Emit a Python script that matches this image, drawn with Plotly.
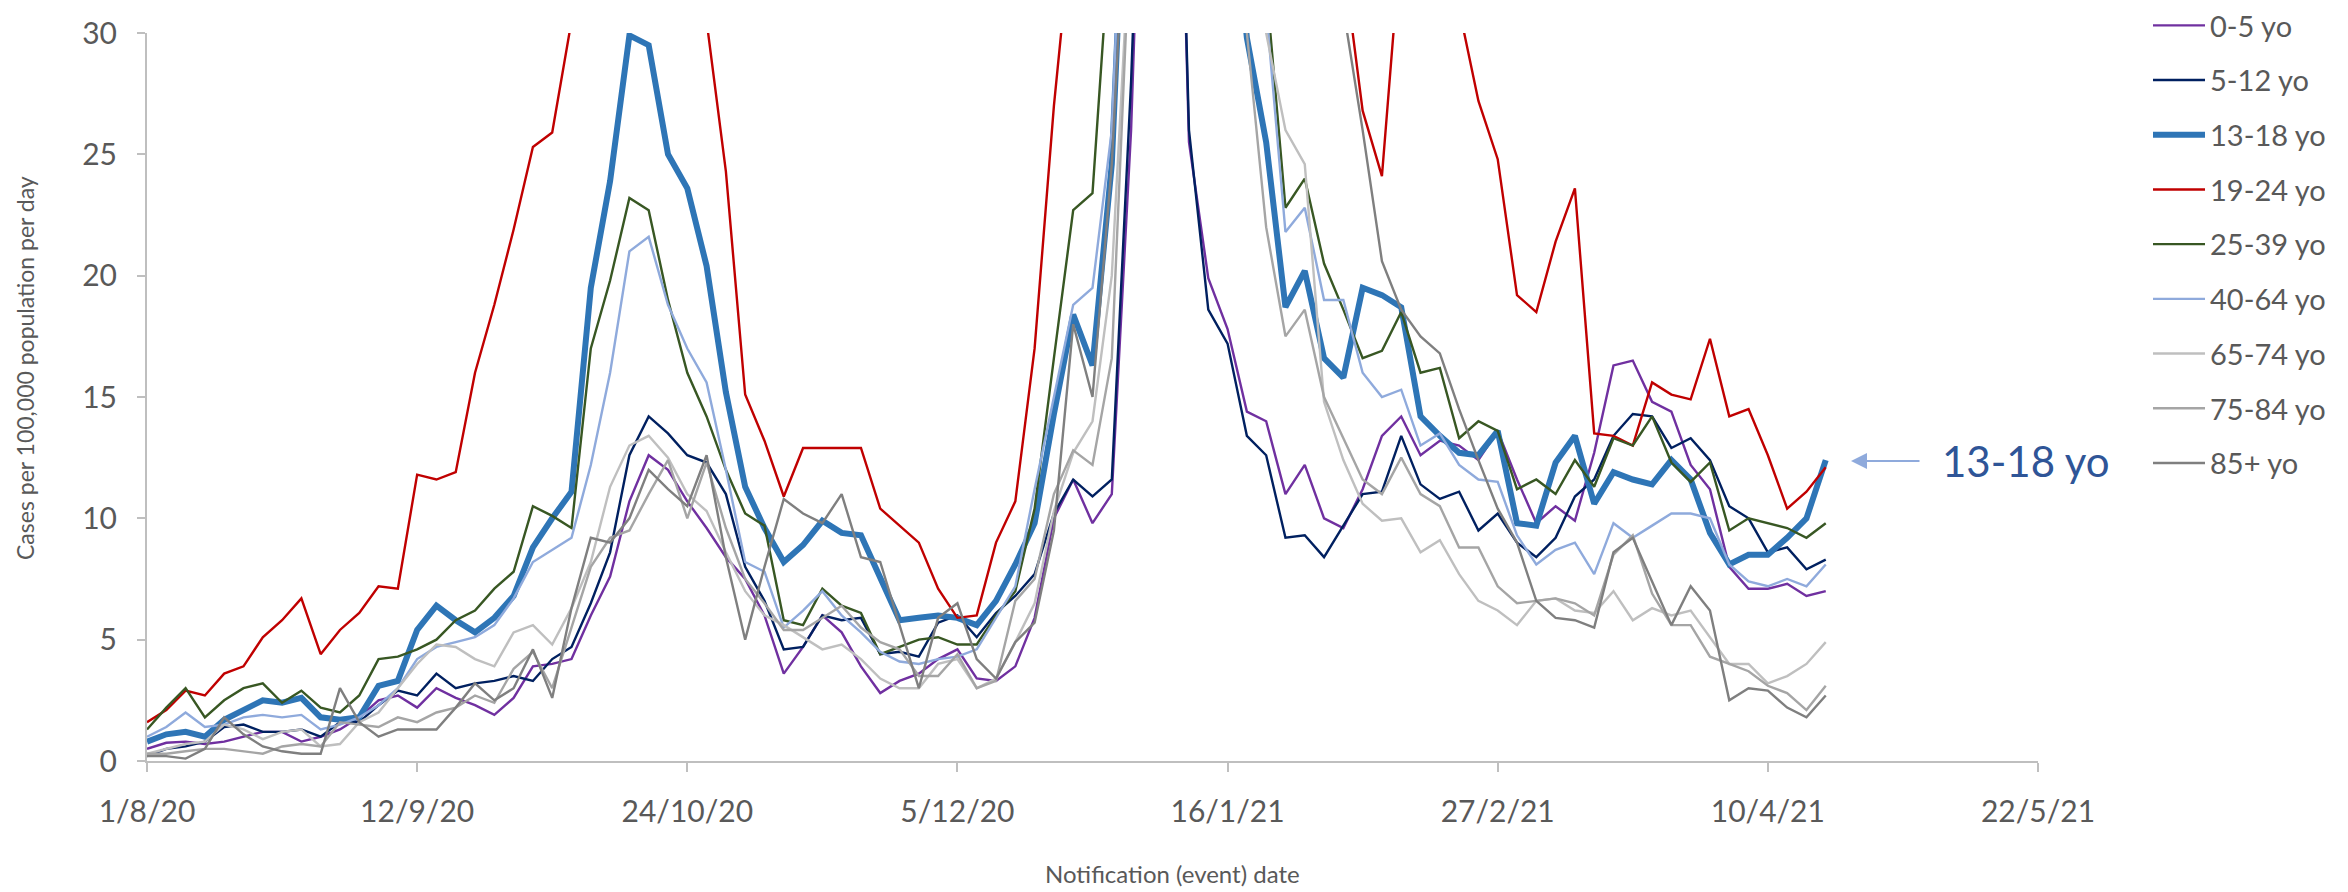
import pandas as pd
import plotly.graph_objects as go

# ---- data (values above 30 are off-chart estimates) ----
start_date = "2020-08-01"
step_days = 3
n_points = 88

age_0_5 = [0.5, 0.75, 0.8, 0.7, 0.8, 1.0, 1.2, 1.2, 0.8, 1.0, 1.3, 1.8, 2.5, 2.7, 2.2,
           3.0, 2.6, 2.3, 1.9, 2.6, 3.9, 4.0, 4.2, 6.0, 7.6, 10.7, 12.6, 12.0, 10.7, 9.6,
           8.4, 7.5, 6.0, 3.6, 4.7, 6.0, 5.3, 3.9, 2.8, 3.3, 3.6, 4.2, 4.6, 3.4,
           3.3, 3.9, 5.9, 10.0, 11.6, 9.8, 11.0, 26.0, 50, 55, 25.5, 19.9, 17.8, 14.4, 14.0,
           11.0, 12.2, 10.0, 9.6, 11.2, 13.4, 14.2, 12.6, 13.2, 13.0, 12.4, 13.6, 11.6, 9.8,
           10.5, 9.9, 12.7, 16.3, 16.5, 14.8, 14.4, 12.2, 11.2, 8.0, 7.1, 7.1, 7.3, 6.8, 7.0]

age_5_12 = [0.2, 0.5, 0.6, 0.8, 1.4, 1.5, 1.2, 1.2, 1.3, 1.0, 1.6, 1.6, 2.3, 2.9, 2.7,
            3.6, 3.0, 3.2, 3.3, 3.5, 3.3, 4.2, 4.7, 6.5, 8.6, 12.6, 14.2, 13.5, 12.6, 12.3,
            11.0, 8.0, 6.6, 4.6, 4.7, 6.0, 5.8, 5.9, 4.4, 4.5, 4.3, 5.7, 6.0, 5.1,
            6.1, 6.8, 7.7, 10.2, 11.6, 10.9, 11.6, 28.0, 50, 55, 26.0, 18.6, 17.2, 13.4, 12.6,
            9.2, 9.3, 8.4, 9.7, 11.0, 11.1, 13.4, 11.4, 10.8, 11.1, 9.5, 10.2, 9.0, 8.4,
            9.2, 10.9, 11.6, 13.4, 14.3, 14.2, 12.9, 13.3, 12.4, 10.5, 10.0, 8.6, 8.8, 7.9, 8.3]

age_13_18 = [0.8, 1.1, 1.2, 1.0, 1.7, 2.1, 2.5, 2.4, 2.6, 1.8, 1.7, 1.8, 3.1, 3.3, 5.4,
             6.4, 5.8, 5.3, 5.9, 6.8, 8.8, 10.0, 11.1, 19.5, 23.9, 29.9, 29.5, 25.0, 23.6, 20.4,
             15.2, 11.3, 9.6, 8.2, 8.9, 9.9, 9.4, 9.3, 7.6, 5.8, 5.9, 6.0, 5.9, 5.6,
             6.6, 8.1, 9.8, 14.3, 18.4, 16.3, 24.6, 45, 70, 80, 70, 50, 38, 29.8, 25.5,
             18.7, 20.2, 16.6, 15.8, 19.5, 19.2, 18.7, 14.2, 13.4, 12.7, 12.6, 13.6, 9.8, 9.7,
             12.3, 13.4, 10.6, 11.9, 11.6, 11.4, 12.4, 11.6, 9.4, 8.1, 8.5, 8.5, 9.2, 10.0, 12.4]

age_19_24 = [1.6, 2.1, 2.9, 2.7, 3.6, 3.9, 5.1, 5.8, 6.7, 4.4, 5.4, 6.1, 7.2, 7.1, 11.8,
             11.6, 11.9, 16.0, 18.8, 21.9, 25.3, 25.9, 30.5, 35, 38, 40, 39, 37, 34, 30.5,
             24.3, 15.1, 13.2, 10.9, 12.9, 12.9, 12.9, 12.9, 10.4, 9.7, 9.0, 7.1, 5.9, 6.0,
             9.0, 10.7, 17.0, 27.0, 35, 45, 55, 65, 70, 72, 70, 65, 60, 55, 50,
             46, 42, 38, 33, 26.8, 24.1, 34, 40, 36, 31, 27.2, 24.8, 19.2, 18.5,
             21.4, 23.6, 13.5, 13.4, 13.0, 15.6, 15.1, 14.9, 17.4, 14.2, 14.5, 12.6, 10.4, 11.1, 12.1]

age_25_39 = [1.3, 2.2, 3.0, 1.8, 2.5, 3.0, 3.2, 2.4, 2.9, 2.2, 2.0, 2.7, 4.2, 4.3, 4.6,
             5.0, 5.8, 6.2, 7.1, 7.8, 10.5, 10.1, 9.6, 17.0, 19.8, 23.2, 22.7, 19.0, 16.0, 14.2,
             12.0, 10.2, 9.7, 5.8, 5.6, 7.1, 6.4, 6.1, 4.4, 4.7, 5.0, 5.1, 4.8, 4.8,
             6.0, 7.0, 10.4, 16.6, 22.7, 23.4, 35, 55, 70, 75, 70, 55, 45, 38, 32,
             22.8, 24.0, 20.5, 18.6, 16.6, 16.9, 18.5, 16.0, 16.2, 13.3, 14.0, 13.6, 11.2, 11.6,
             11.0, 12.4, 11.3, 13.3, 13.0, 14.2, 12.3, 11.5, 12.3, 9.5, 10.0, 9.8, 9.6, 9.2, 9.8]

age_40_64 = [1.0, 1.4, 2.0, 1.4, 1.5, 1.8, 1.9, 1.8, 1.9, 1.3, 1.5, 1.8, 2.3, 3.0, 4.2,
             4.7, 4.9, 5.1, 5.6, 6.7, 8.2, 8.7, 9.2, 12.2, 16.0, 21.0, 21.6, 18.8, 17.0, 15.6,
             12.0, 8.2, 7.8, 5.5, 6.2, 7.0, 6.0, 5.3, 4.5, 4.1, 4.0, 4.2, 4.3, 4.6,
             5.9, 7.2, 11.2, 15.0, 18.8, 19.5, 26.0, 45, 65, 75, 65, 50, 40, 34, 31,
             21.8, 22.8, 19.0, 19.0, 16.0, 15.0, 15.3, 13.0, 13.5, 12.2, 11.6, 11.5, 9.3, 8.1,
             8.7, 9.0, 7.7, 9.8, 9.2, 9.7, 10.2, 10.2, 10.0, 8.1, 7.4, 7.2, 7.5, 7.2, 8.1]

age_65_74 = [0.3, 0.5, 0.7, 0.8, 1.5, 1.3, 0.9, 1.2, 1.3, 0.6, 0.7, 1.6, 2.0, 3.0, 4.0,
             4.8, 4.7, 4.2, 3.9, 5.3, 5.6, 4.8, 6.3, 8.2, 11.3, 13.0, 13.4, 12.5, 11.0, 10.3,
             8.6, 7.0, 6.0, 5.6, 5.1, 4.6, 4.8, 4.2, 3.4, 3.0, 3.0, 4.0, 4.2, 3.0,
             3.4, 4.9, 6.5, 10.3, 12.7, 14.0, 20.0, 35, 55, 65, 60, 50, 42, 35, 30,
             26.0, 24.6, 14.8, 12.4, 10.6, 9.9, 10.0, 8.6, 9.1, 7.7, 6.6, 6.2, 5.6, 6.6,
             6.7, 6.2, 6.1, 7.0, 5.8, 6.3, 6.0, 6.2, 5.1, 4.0, 4.0, 3.2, 3.5, 4.0, 4.9]

age_75_84 = [0.3, 0.3, 0.4, 0.5, 0.5, 0.4, 0.3, 0.6, 0.7, 0.6, 1.6, 1.5, 1.4, 1.8, 1.6,
             2.0, 2.2, 2.7, 2.4, 3.8, 4.5, 3.0, 5.5, 8.0, 9.2, 9.5, 11.0, 12.4, 10.0, 12.3,
             9.6, 7.5, 6.5, 5.4, 5.4, 5.9, 6.4, 5.5, 4.9, 4.6, 3.5, 3.5, 4.4, 3.0,
             3.3, 6.6, 7.5, 11.0, 12.8, 12.2, 16.6, 35, 55, 65, 60, 50, 40, 30, 22,
             17.5, 18.6, 15.0, 13.3, 11.6, 11.0, 12.5, 11.0, 10.5, 8.8, 8.8, 7.2, 6.5, 6.6,
             6.7, 6.5, 6.0, 8.5, 9.3, 6.9, 5.6, 5.6, 4.3, 4.0, 3.7, 3.1, 2.8, 2.1, 3.1]

age_85_plus = [0.2, 0.2, 0.1, 0.5, 1.8, 1.1, 0.6, 0.4, 0.3, 0.3, 3.0, 1.6, 1.0, 1.3, 1.3,
               1.3, 2.2, 3.2, 2.5, 3.0, 4.6, 2.6, 6.3, 9.2, 9.0, 10.0, 12.0, 11.2, 10.5, 12.6,
               8.4, 5.0, 8.0, 10.8, 10.2, 9.8, 11.0, 8.4, 8.2, 5.6, 3.0, 5.9, 6.5, 4.2,
               3.4, 4.9, 5.7, 9.5, 18.0, 15.0, 24.6, 40, 55, 65, 70, 65, 55, 48, 42,
               38, 35, 32, 31, 26.0, 20.6, 18.6, 17.5, 16.8, 14.5, 12.4, 10.4, 9.0, 6.6,
               5.9, 5.8, 5.5, 8.6, 9.2, 7.4, 5.6, 7.2, 6.2, 2.5, 3.0, 2.9, 2.2, 1.8, 2.7]

series_names = ["0-5 yo", "5-12 yo", "13-18 yo", "19-24 yo", "25-39 yo",
                "40-64 yo", "65-74 yo", "75-84 yo", "85+ yo"]
series_values = [age_0_5, age_5_12, age_13_18, age_19_24, age_25_39,
                 age_40_64, age_65_74, age_75_84, age_85_plus]
series_colors = ["#7030a0", "#002060", "#2e75b6", "#c00000", "#385723",
                 "#8faadc", "#bfbfbf", "#a5a5a5", "#7f7f7f"]
series_widths = [2.4, 2.4, 6, 2.4, 2.4, 2.4, 2.4, 2.4, 2.4]

tick_dates = ["2020-08-01", "2020-09-12", "2020-10-24", "2020-12-05",
              "2021-01-16", "2021-02-27", "2021-04-10", "2021-05-22"]
tick_labels = ["1/8/20", "12/9/20", "24/10/20", "5/12/20",
               "16/1/21", "27/2/21", "10/4/21", "22/5/21"]
y_ticks = [0, 5, 10, 15, 20, 25, 30]

dates = pd.date_range(start_date, periods=n_points, freq=f"{step_days}D")

FONT = "Lato, 'Open Sans', sans-serif"
GREY_TXT = "#595959"
AXIS_COL = "#bfbfbf"

fig = go.Figure()
for name, vals, col, w in zip(series_names, series_values, series_colors, series_widths):
    fig.add_trace(go.Scatter(
        x=dates, y=vals, mode="lines", name=name, legendgroup=name,
        line=dict(color=col, width=w), hoverinfo="skip"))

W, H = 2348, 892
L, R, T, B = 147, 2038, 33, 761
pw, ph = R - L, B - T


def px(xp):
    return (xp - L) / pw


def py(yp):
    return (B - yp) / ph


fig.update_layout(
    width=W, height=H,
    margin=dict(l=L, r=W - R, t=T, b=H - B, pad=0, autoexpand=False),
    paper_bgcolor="white", plot_bgcolor="white",
    font=dict(family=FONT, color=GREY_TXT, size=29),
    showlegend=True,
    legend=dict(
        xref="container", yref="container",
        x=2148 / W, y=1.012, xanchor="left", yanchor="top",
        maxheight=1.0,
        font=dict(family=FONT, size=29, color=GREY_TXT),
        tracegroupgap=14, itemwidth=52, bgcolor="rgba(0,0,0,0)",
    ),
    xaxis=dict(
        type="date", range=["2020-08-01", "2021-05-22"],
        tickvals=tick_dates, ticktext=tick_labels,
        showgrid=False, zeroline=False, automargin=False,
        showline=True, linecolor=AXIS_COL, linewidth=2,
        ticks="outside", ticklen=9, tickcolor=AXIS_COL, tickwidth=2,
        tickfont=dict(family=FONT, size=30, color=GREY_TXT),
        ticklabelstandoff=14,
    ),
    yaxis=dict(
        range=[0, 30], tickvals=y_ticks,
        showgrid=False, zeroline=False, automargin=False,
        showline=True, linecolor=AXIS_COL, linewidth=2,
        ticks="outside", ticklen=8, tickcolor=AXIS_COL, tickwidth=2,
        tickfont=dict(family=FONT, size=30, color=GREY_TXT),
        ticklabelstandoff=14,
    ),
    annotations=[
        dict(text="Cases per 100,000 population per day", textangle=-90,
             xref="paper", yref="paper", x=px(25), y=py(368),
             xanchor="center", yanchor="middle", showarrow=False,
             font=dict(family=FONT, size=23, color=GREY_TXT)),
        dict(text="Notification (event) date",
             xref="paper", yref="paper", x=px(1172), y=py(874),
             xanchor="center", yanchor="middle", showarrow=False,
             font=dict(family=FONT, size=24, color=GREY_TXT)),
        dict(text="13-18 yo",
             xref="paper", yref="paper", x=px(2026), y=py(461),
             xanchor="center", yanchor="middle", showarrow=False,
             font=dict(family=FONT, size=42, color="#2f5597")),
        dict(text="", xref="paper", yref="paper", x=px(1851), y=py(461),
             ax=70, ay=0, showarrow=True, arrowhead=2, arrowsize=1.6,
             arrowwidth=2, arrowcolor="#8faadc", standoff=0),
    ],
)

fig.write_html("out.html",
               config={"displayModeBar": False, "staticPlot": False},
               post_script="document.body.style.margin='0';document.body.style.overflow='hidden';")
